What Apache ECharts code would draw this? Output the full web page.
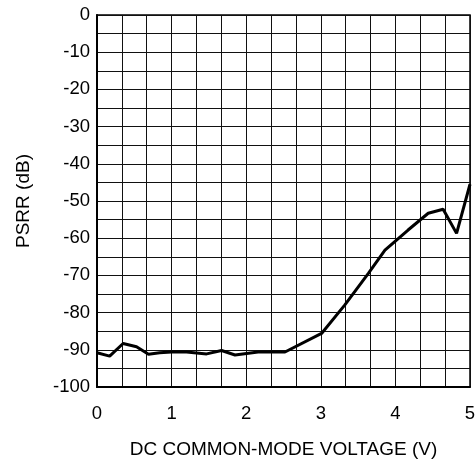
<!DOCTYPE html>
<html>
<head>
<meta charset="utf-8">
<script src="https://cdn.jsdelivr.net/npm/echarts@6/dist/echarts.min.js"></script>
<style>
  html, body { margin: 0; padding: 0; background: #fff; }
  #chart { width: 475px; height: 461px; }
</style>
</head>
<body>
<div id="chart"></div>
<script>
  // DC common-mode voltage (V) and PSRR (dB)
  const voltage = [0, 0.17, 0.35, 0.53, 0.69, 0.84, 1.0, 1.2, 1.47, 1.67, 1.85, 2.16, 2.52, 3.01, 3.32, 3.64, 3.86, 4.17, 4.44, 4.64, 4.82, 5.0]
  const psrr = [-90.8, -91.7, -88.3, -89.2, -91.2, -90.8, -90.6, -90.6, -91.1, -90.2, -91.4, -90.6, -90.6, -85.6, -78, -69.4, -63.2, -57.8, -53.3, -52.2, -58.7, -45.5]

  const font = 'Liberation Sans, Arial, sans-serif'
  const chart = echarts.init(document.getElementById('chart'))
  const option = {
    animation: false,
    grid: {
      left: 97, right: 5, top: 15, bottom: 74,
      outerBoundsMode: 'none',
      show: true, borderColor: '#000', borderWidth: 1.5
    },
    xAxis: {
      type: 'value',
      min: 0, max: 5, interval: 1,
      name: 'DC COMMON-MODE VOLTAGE (V)',
      nameLocation: 'middle',
      nameGap: 53,
      nameTextStyle: { fontFamily: font, fontSize: 19, color: '#000' },
      axisLine: { show: true, onZero: false, lineStyle: { color: '#000', width: 2 } },
      axisTick: { show: false },
      axisLabel: { margin: 17, fontFamily: font, fontSize: 18.5, color: '#000' },
      splitLine: { show: true, lineStyle: { color: '#111', width: 1 } },
      minorTick: { show: false, splitNumber: 3 },
      minorSplitLine: { show: true, lineStyle: { color: '#111', width: 1 } }
    },
    yAxis: {
      type: 'value',
      min: -100, max: 0, interval: 10,
      name: 'PSRR (dB)',
      nameLocation: 'middle',
      nameGap: 64,
      nameTextStyle: { fontFamily: font, fontSize: 19, color: '#000' },
      axisLine: { show: true, lineStyle: { color: '#000', width: 2 } },
      axisTick: { show: false },
      axisLabel: { margin: 7, fontFamily: font, fontSize: 18.5, color: '#000' },
      splitLine: { show: true, lineStyle: { color: '#111', width: 1 } },
      minorTick: { show: false, splitNumber: 2 },
      minorSplitLine: { show: true, lineStyle: { color: '#111', width: 1 } }
    },
    series: [
      {
        type: 'line',
        data: voltage.map((v, i) => [v, psrr[i]]),
        showSymbol: false,
        lineStyle: { color: '#000', width: 3 },
        clip: false
      }
    ]
  }
  chart.setOption(option)
</script>
</body>
</html>
